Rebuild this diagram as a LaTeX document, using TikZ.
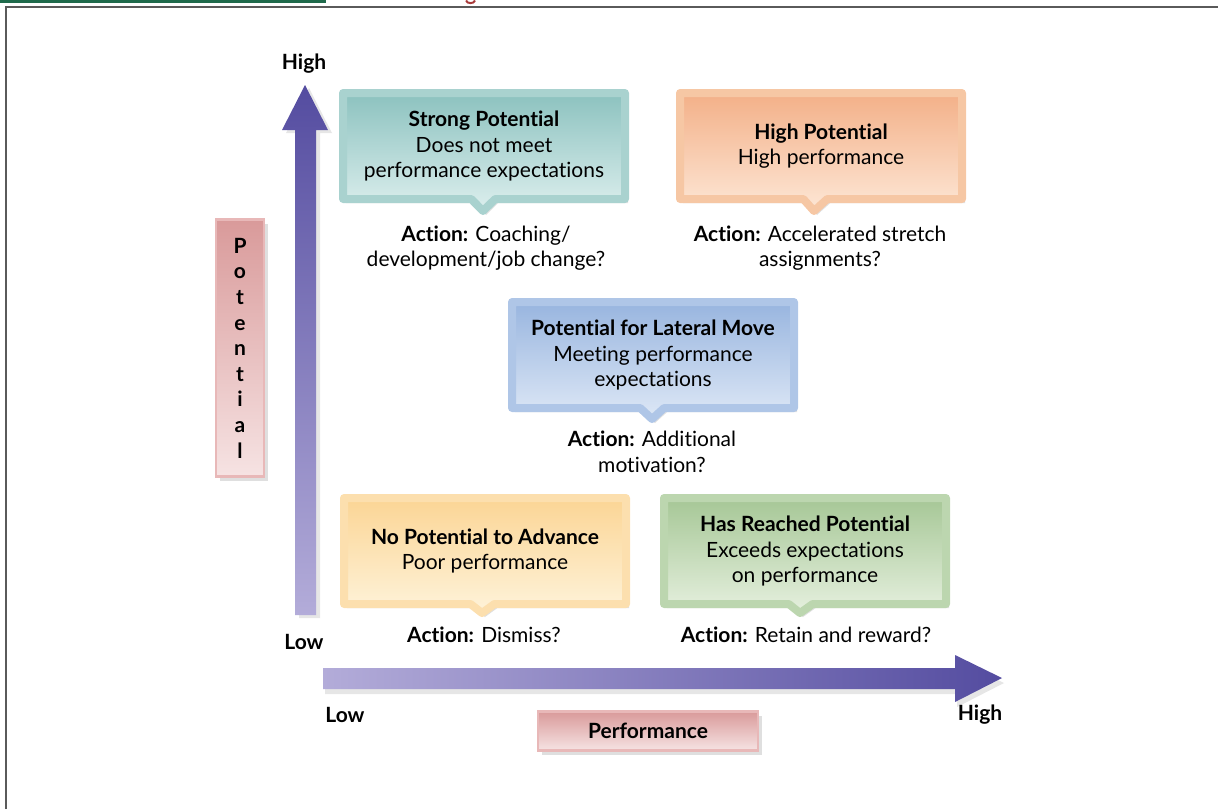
\documentclass[tikz,border=0pt]{standalone}
\usepackage{fontspec}
\setmainfont{Lato}[Ligatures={NoCommon,NoContextual}]
\usetikzlibrary{shapes.callouts,shadows,positioning}

% Colours of the grid boxes
\definecolor{tealtop}{HTML}{8CC2BF}
\definecolor{tealbot}{HTML}{DDEFEE}
\definecolor{tealrim}{HTML}{A9D2CF}
\definecolor{orangetop}{HTML}{F3B088}
\definecolor{orangebot}{HTML}{FDE7D6}
\definecolor{orangerim}{HTML}{F6C7A4}
\definecolor{bluetop}{HTML}{98B5DF}
\definecolor{bluebot}{HTML}{DEE8F6}
\definecolor{bluerim}{HTML}{AFC6E7}
\definecolor{yellowtop}{HTML}{FBD595}
\definecolor{yellowbot}{HTML}{FEF3DA}
\definecolor{yellowrim}{HTML}{FCDFAE}
\definecolor{greentop}{HTML}{A6C796}
\definecolor{greenbot}{HTML}{E6F0DF}
\definecolor{greenrim}{HTML}{BCD6AF}
\definecolor{pinktop}{HTML}{D99A9A}
\definecolor{pinkbot}{HTML}{F6E3E3}
\definecolor{pinkrim}{HTML}{E8B8B8}
\definecolor{axisdark}{HTML}{544CA0}
\definecolor{axislight}{HTML}{B3ACD9}
\definecolor{framegray}{HTML}{5A5A5A}
\definecolor{bargreen}{HTML}{1F6A4B}
\definecolor{capred}{HTML}{A83A3A}

\tikzset{
  boxfont/.style={font=\fontsize{10.5}{12.8}\selectfont},
  quadbox/.style={rectangle callout, boxfont, align=center,
    callout pointer width=12pt,
    minimum width=141pt, minimum height=53pt, inner sep=2pt,
    line width=4pt, line join=round,
    drop shadow={opacity=0.25, shadow xshift=1.5pt, shadow yshift=-2pt}},
  actiontext/.style={boxfont, align=center, inner sep=1pt},
  axislabel/.style={font=\fontsize{10.5}{12.8}\selectfont\bfseries, inner sep=1pt},
  labelbox/.style={rectangle, draw=pinkrim, line width=1.2pt,
    top color=pinktop, bottom color=pinkbot, align=center,
    font=\fontsize{10.5}{12.8}\selectfont\bfseries, inner sep=1pt,
    drop shadow={opacity=0.25, shadow xshift=2pt, shadow yshift=-2pt}},
}

\begin{document}
\begin{tikzpicture}[x=0.5pt, y=-0.5pt]

    \useasboundingbox (0,0) rectangle (1218,809);

    % Page furniture: heading bar, cut caption and frame
    \fill[bargreen] (0,0) rectangle (326,2.5);
    \draw[capred, line width=1pt] (466,0.5) .. controls (467,4) and (474,4) .. (475,0.5);
    \draw[framegray, line width=1pt] (6,809) -- (6,7) -- (1218,7);

    % Potential axis (up)
    \shade[bottom color=axislight, top color=axisdark,
      drop shadow={opacity=0.2, shadow xshift=2pt, shadow yshift=-1.5pt}]
      (295,615) -- (295,130) -- (282,130) -- (305,85) -- (328,130)
      -- (316,130) -- (316,615) -- cycle;

    % Performance axis (right)
    \shade[left color=axislight, right color=axisdark,
      drop shadow={opacity=0.2, shadow xshift=1pt, shadow yshift=-2.5pt}]
      (323,668) -- (955,668) -- (955,655) -- (1002,678) -- (955,702)
      -- (955,689) -- (323,689) -- cycle;

    % Axis ends
    \node[axislabel] (vhigh) at (304,64)  {High};
    \node[axislabel] (vlow)  at (304,642) {Low};
    \node[axislabel] (hlow)  at (345,715) {Low};
    \node[axislabel] (hhigh) at (980,715) {High};

    % Axis titles
    \node[labelbox, minimum width=24pt, minimum height=128.5pt] (potential) at (240,348)
      {P\\o\\t\\e\\n\\t\\i\\a\\l};
    \node[labelbox, minimum width=110pt, minimum height=19.5pt] (performance) at (648,731)
      {Performance};

    % Grid boxes
    \node[quadbox, top color=tealtop, bottom color=tealbot, draw=tealrim,
      callout absolute pointer={(483,211)}] (strong) at (484,146)
      {\textbf{Strong Potential}\\Does not meet\\performance expectations};
    \node[quadbox, top color=orangetop, bottom color=orangebot, draw=orangerim,
      callout absolute pointer={(814,211)}] (highpot) at (821,146)
      {\textbf{High Potential}\\High performance};
    \node[quadbox, top color=bluetop, bottom color=bluebot, draw=bluerim,
      callout absolute pointer={(652,419)}] (lateral) at (653,355)
      {\textbf{Potential for Lateral Move}\\Meeting performance\\expectations};
    \node[quadbox, top color=yellowtop, bottom color=yellowbot, draw=yellowrim,
      callout absolute pointer={(482,613)}] (nopot) at (485,551)
      {\textbf{No Potential to Advance}\\Poor performance};
    \node[quadbox, top color=greentop, bottom color=greenbot, draw=greenrim,
      callout absolute pointer={(800,613)}] (reached) at (805,551)
      {\textbf{Has Reached Potential}\\Exceeds expectations\\on performance};

    % Actions under the boxes
    \node[actiontext] (strongact)  at (486,248) {\textbf{Action:} Coaching/\\development/job change?};
    \node[actiontext] (highact)    at (820,248) {\textbf{Action:} Accelerated stretch\\assignments?};
    \node[actiontext] (lateralact) at (652,452) {\textbf{Action:} Additional\\motivation?};
    \node[actiontext] (nopotact)   at (484,635) {\textbf{Action:} Dismiss?};
    \node[actiontext] (reachedact) at (806,635) {\textbf{Action:} Retain and reward?};

\end{tikzpicture}
\end{document}
